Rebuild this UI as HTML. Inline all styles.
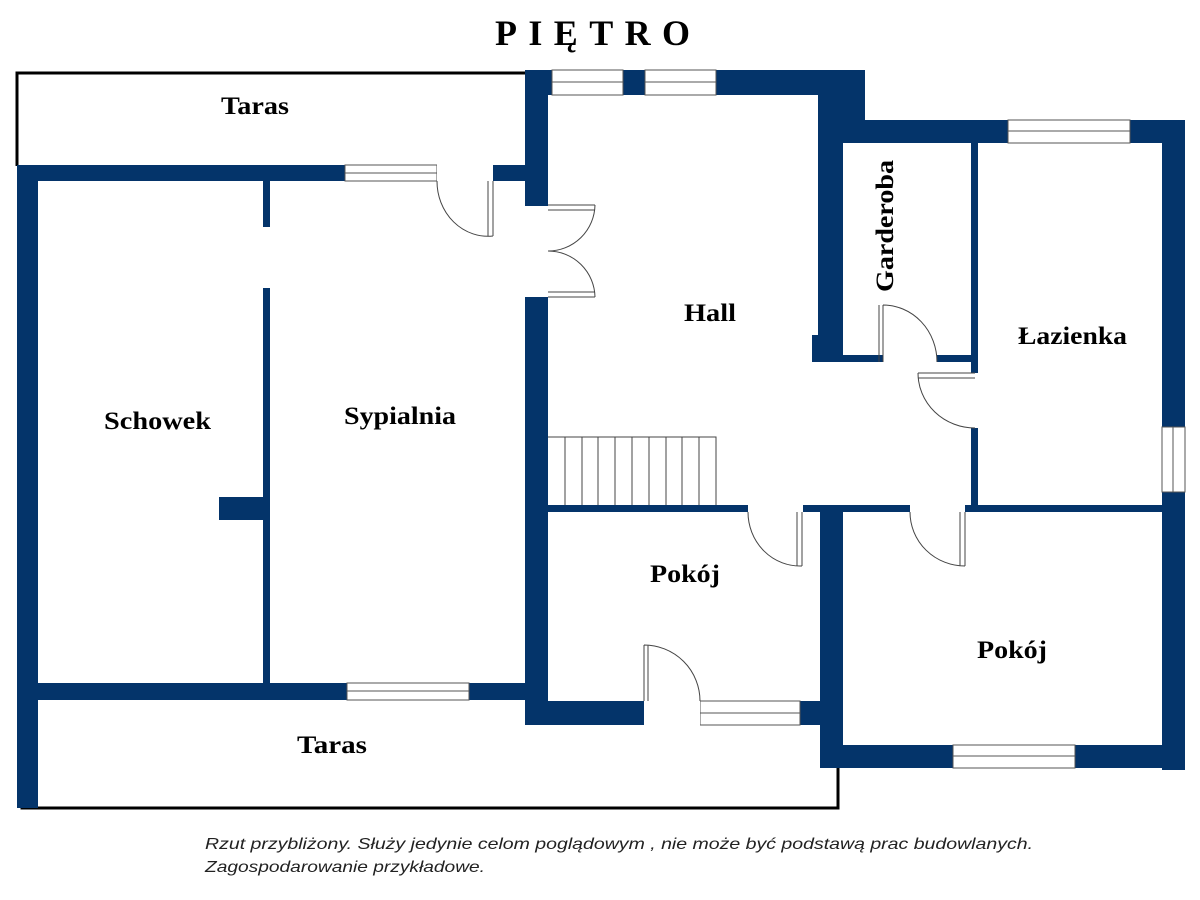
<!DOCTYPE html>
<html><head><meta charset="utf-8"><style>
html,body{margin:0;padding:0;background:#fff;width:1200px;height:900px;overflow:hidden}
</style></head><body>
<svg width="1200" height="900" xmlns="http://www.w3.org/2000/svg">
<rect width="1200" height="900" fill="#fff"/>
<text x="495" y="45" font-family="Liberation Serif,serif" font-weight="bold" font-size="36" textLength="195" lengthAdjust="spacing">PIĘTRO</text>
<g fill="none" stroke="#000" stroke-width="3">
<polyline points="17,166 17,73 527,73"/>
<polyline points="22,780 22,808 838,808 838,765"/>
</g>
<g fill="#04346a">
<rect x="17" y="165" width="510" height="16"/>
<rect x="17" y="165" width="21" height="643"/>
<rect x="263" y="181" width="7" height="46"/>
<rect x="263" y="288" width="7" height="396"/>
<rect x="219" y="497" width="46" height="23"/>
<rect x="38" y="683" width="489" height="17"/>
<rect x="525" y="70" width="23" height="136"/>
<rect x="525" y="297" width="23" height="428"/>
<rect x="525" y="70" width="340" height="25"/>
<rect x="818" y="70" width="47" height="52"/>
<rect x="818" y="70" width="25" height="292"/>
<rect x="812" y="335" width="31" height="27"/>
<rect x="843" y="120" width="342" height="23"/>
<rect x="1162" y="120" width="23" height="650"/>
<rect x="971" y="143" width="7" height="230"/>
<rect x="971" y="428" width="7" height="80"/>
<rect x="843" y="355" width="40" height="7"/>
<rect x="937" y="355" width="38" height="7"/>
<rect x="548" y="505" width="637" height="7"/>
<rect x="820" y="505" width="23" height="263"/>
<rect x="525" y="701" width="318" height="24"/>
<rect x="820" y="745" width="365" height="23"/>
</g>
<g fill="#fff" stroke="#555" stroke-width="1">
<rect x="345" y="165" width="92" height="16"/><line x1="345" y1="173" x2="437" y2="173"/>
<rect x="552" y="70" width="71" height="25"/><line x1="552" y1="82" x2="623" y2="82"/>
<rect x="645" y="70" width="71" height="25"/><line x1="645" y1="82" x2="716" y2="82"/>
<rect x="1008" y="120" width="122" height="23"/><line x1="1008" y1="131" x2="1130" y2="131"/>
<rect x="1162" y="427" width="23" height="65"/><line x1="1173" y1="427" x2="1173" y2="492"/>
<rect x="347" y="683" width="122" height="17"/><line x1="347" y1="691" x2="469" y2="691"/>
<rect x="700" y="701" width="100" height="24"/><line x1="700" y1="713" x2="800" y2="713"/>
<rect x="953" y="745" width="122" height="23"/><line x1="953" y1="756" x2="1075" y2="756"/>
</g>
<g fill="#fff" stroke="none">
<rect x="437" y="164" width="56" height="18"/>
<rect x="524" y="206" width="25" height="91"/>
<rect x="883" y="354" width="54" height="9"/>
<rect x="970" y="373" width="9" height="55"/>
<rect x="748" y="504" width="55" height="9"/>
<rect x="910" y="504" width="55" height="9"/>
<rect x="644" y="700" width="56" height="26"/>
</g>
<g fill="none" stroke="#444" stroke-width="1">
<path d="M488,181 V236 M493,181 V236 M437,181 A51,55 0 0 0 493,236"/>
<path d="M548,205 H595 M548,210 H595 M595,205 A47,47 0 0 1 548,251 A47,47 0 0 1 595,297 M548,292 H595 M548,297 H595"/>
<path d="M883,305 V362 M879,305 V362 M883,305 A54,57 0 0 1 937,362"/>
<path d="M918,373 H975 M918,378 H975 M918,373 A57,55 0 0 0 975,428"/>
<path d="M797,512 V566 M802,512 V566 M748,512 A52,54 0 0 0 802,566"/>
<path d="M960,512 V566 M965,512 V566 M910,512 A55,54 0 0 0 965,566"/>
<path d="M644,645 V701 M648,645 V701 M644,645 A56,56 0 0 1 700,701"/>
<path d="M548,437 H716 V505"/>
<path d="M565,437V505 M582,437V505 M598,437V505 M615,437V505 M632,437V505 M649,437V505 M666,437V505 M682,437V505 M699,437V505"/>
</g>
<g font-family="Liberation Serif,serif" font-weight="bold" font-size="25" fill="#000" lengthAdjust="spacingAndGlyphs">
<text x="221" y="114" textLength="68" lengthAdjust="spacingAndGlyphs">Taras</text>
<text x="104" y="429" textLength="107" lengthAdjust="spacingAndGlyphs">Schowek</text>
<text x="344" y="424" textLength="112" lengthAdjust="spacingAndGlyphs">Sypialnia</text>
<text x="684" y="321" textLength="52" lengthAdjust="spacingAndGlyphs">Hall</text>
<text x="1018" y="344" textLength="109" lengthAdjust="spacingAndGlyphs">Łazienka</text>
<text x="650" y="582" textLength="70" lengthAdjust="spacingAndGlyphs">Pokój</text>
<text x="977" y="658" textLength="70" lengthAdjust="spacingAndGlyphs">Pokój</text>
<text x="297" y="753" textLength="70" lengthAdjust="spacingAndGlyphs">Taras</text>
<text transform="translate(893,292) rotate(-90)" textLength="132" lengthAdjust="spacingAndGlyphs">Garderoba</text>
</g>
<g font-family="Liberation Sans,sans-serif" font-style="italic" font-size="16" fill="#222">
<text x="205" y="849" textLength="828" lengthAdjust="spacingAndGlyphs">Rzut przybliżony. Służy jedynie celom poglądowym , nie może być podstawą prac budowlanych.</text>
<text x="205" y="872" textLength="280" lengthAdjust="spacingAndGlyphs">Zagospodarowanie przykładowe.</text>
</g>
</svg>
</body></html>
